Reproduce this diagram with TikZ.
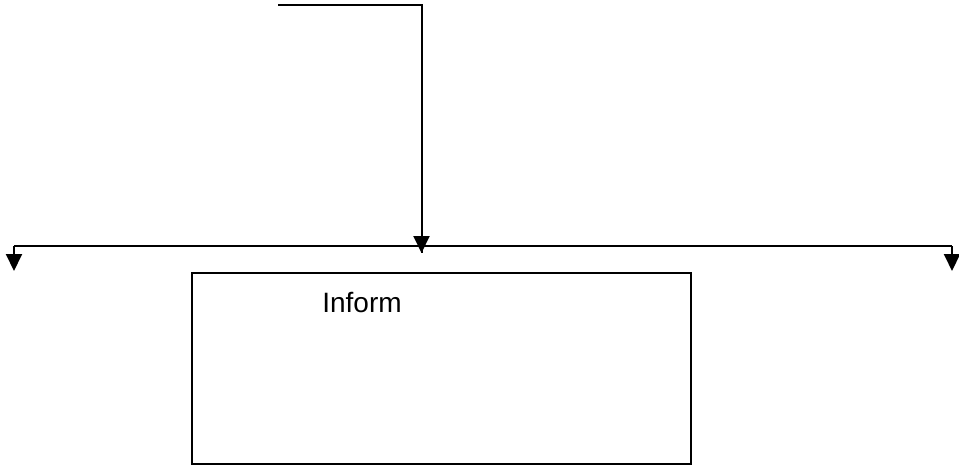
\documentclass[tikz,border=0pt]{standalone}
\usepackage{fontspec}
\setmainfont{Liberation Sans}
\usetikzlibrary{arrows.meta}

\tikzset{
	wire/.style={line width=2pt, -{Triangle[length=17pt,width=16pt]}},
	plain/.style={line width=2pt},
	infobox/.style={draw, line width=2pt, minimum width=499pt, minimum height=191pt, inner sep=0pt},
}

\begin{document}
\begin{tikzpicture}[x=1pt, y=-1pt]
		\useasboundingbox (0,0) rectangle (959,468);
		\coordinate (src) at (278,5);
		\coordinate (drop) at (421.5,253);
		\coordinate (busL) at (14,246);
		\coordinate (busR) at (952,246);
		\coordinate (outL) at (14,271);
		\coordinate (outR) at (952,271);
		\node[infobox] (box) at (441,368) {};
		\node[anchor=base, font=\fontsize{28}{34}\selectfont] (inform) at (362,312) {Inform};
		\draw[plain] (src) -| (drop);
		\draw[wire] (src -| drop) -- (drop);
		\draw[plain] (busL) -- (busR);
		\draw[wire] (busL) -- (outL);
		\draw[wire] (busR) -- (outR);
		\end{tikzpicture}
\end{document}
